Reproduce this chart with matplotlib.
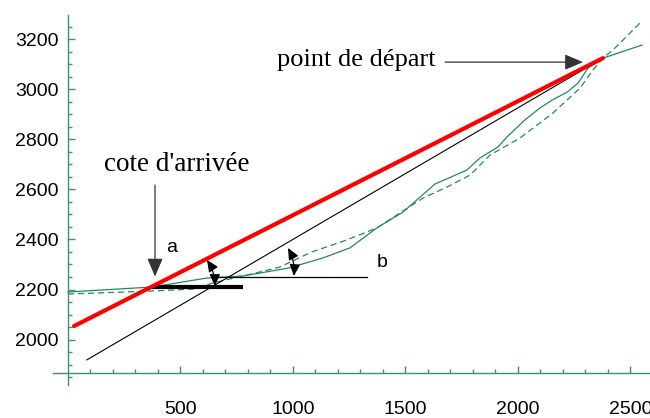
import numpy as np
import matplotlib.pyplot as plt

# profil du terrain (m) : relevé et lissé
prof_x = [0, 373, 618, 778, 982, 1133, 1253, 1373, 1489, 1631, 1773, 1831, 1911,
          1951, 2031, 2098, 2151, 2218, 2267, 2311, 2378, 2551]
prof_y = [2190, 2210, 2246, 2254, 2286, 2326, 2366, 2446, 2509, 2621, 2677, 2725,
          2769, 2809, 2877, 2925, 2956, 2988, 3024, 3084, 3124, 3176]
lisse_x = [0, 373, 564, 644, 853, 942, 1084, 1240, 1373, 1578, 1684, 1787, 1876,
           2009, 2156, 2276, 2333, 2378, 2422, 2467, 2542]
lisse_y = [2182, 2194, 2202, 2226, 2270, 2290, 2350, 2398, 2446, 2565, 2609, 2657,
           2737, 2805, 2905, 3004, 3076, 3124, 3156, 3196, 3264]

# points remarquables
depart = (2378, 3124)
arrivee = (373, 2210)

# droites de pente
rouge_x = [27, depart[0]]
rouge_y = [2054, depart[1]]
noire_x = [84, depart[0]]
noire_y = [1919, depart[1]]
palier_x = [373, 780]
palier_y = [2210, 2210]
horiz_b_x = [662, 1329]
horiz_b_y = [2250, 2250]

xticks = [500, 1000, 1500, 2000, 2500]
yticks = [2000, 2200, 2400, 2600, 2800, 3000, 3200]

vert = '#22895b'
axe_vert = '#3b9270'

fig = plt.figure(figsize=(6.5, 4.18), dpi=100)
ax = fig.add_axes([0, 0, 1, 1])
ax.set_xlim(-302, 2587)
ax.set_ylim(1687, 3356)

for s in ['top', 'right']:
    ax.spines[s].set_visible(False)
ax.spines['left'].set_position(('data', 0))
ax.spines['left'].set_bounds(1819, 3296)
ax.spines['bottom'].set_position(('data', 1867))
ax.spines['bottom'].set_bounds(-67, 2587)
for s in ['left', 'bottom']:
    ax.spines[s].set_color(axe_vert)
    ax.spines[s].set_linewidth(1.0)

ax.set_xticks(xticks)
ax.set_xticks(np.arange(100, 2600, 100), minor=True)
ax.set_yticks(yticks)
ax.set_yticks(np.arange(1850, 3300, 50), minor=True)
ax.tick_params(which='both', direction='in', color=axe_vert, width=1)
ax.tick_params(which='major', length=5)
ax.tick_params(which='minor', length=3)
ax.tick_params(axis='x', which='major', pad=20, labelsize=14)
ax.tick_params(axis='y', which='major', pad=7, labelsize=14)
for lab in ax.get_xticklabels() + ax.get_yticklabels():
    lab.set_fontfamily('Liberation Sans')

# profils
ax.plot(prof_x, prof_y, color=vert, lw=0.9)
ax.plot(lisse_x, lisse_y, color=vert, lw=0.9, ls=(0, (5, 3)))

# droites
ax.plot(noire_x, noire_y, color='black', lw=0.8)
ax.plot(horiz_b_x, horiz_b_y, color='black', lw=0.9)
ax.plot(palier_x, palier_y, color='black', lw=3, solid_capstyle='butt')
ax.plot(rouge_x, rouge_y, color='#ff0000', lw=3, solid_capstyle='round')

# légendes
serif = 'Liberation Serif'
fleche = dict(arrowstyle='-|>,head_length=0.7,head_width=0.3', color='#333333',
              lw=0.9, shrinkA=0, shrinkB=0, mutation_scale=16)
ax.text(160, 2673, "cote d'arrivée", fontsize=19.5, family=serif, va='baseline')
ax.annotate('', xy=(arrivee[0] + 14, arrivee[1] + 42), xytext=(arrivee[0] + 14, 2617),
            arrowprops=fleche)
ax.text(929, 3092, 'point de départ', fontsize=19, family=serif, va='baseline')
ax.annotate('', xy=(2289, 3108), xytext=(1676, 3108), arrowprops=fleche)

ax.text(462, 2366, 'a', fontsize=14, family='Liberation Sans', ha='center', va='center')
ax.text(1396, 2306, 'b', fontsize=14, family='Liberation Sans', ha='center', va='center')

# arcs d'angle
arc = dict(arrowstyle='<|-|>,head_length=1.0,head_width=0.45', color='black',
           lw=0.9, shrinkA=0, shrinkB=0, mutation_scale=7,
           connectionstyle='arc3,rad=-0.15')
ax.annotate('', xy=(653, 2214), xytext=(618, 2318), arrowprops=arc)
ax.annotate('', xy=(1004, 2254), xytext=(978, 2366), arrowprops=arc)

fig.savefig('out.png', dpi=100)
